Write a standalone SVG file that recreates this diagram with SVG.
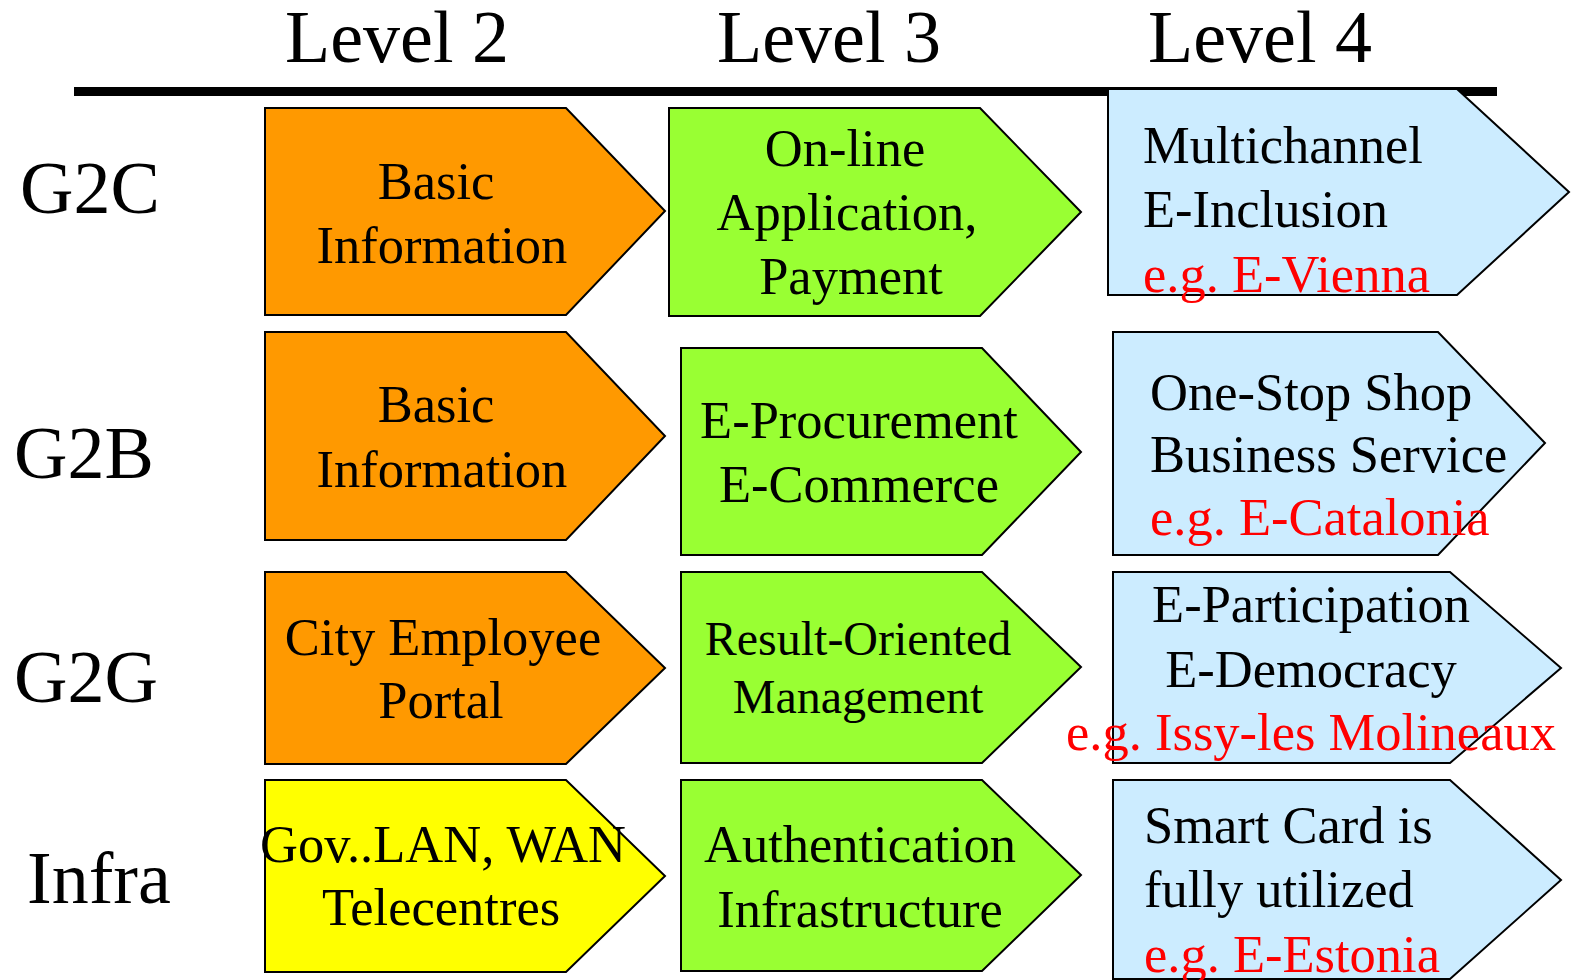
<svg xmlns="http://www.w3.org/2000/svg" width="1573" height="980" viewBox="0 0 1573 980">
<style>
text{font-family:"Liberation Serif","Times New Roman",serif;fill:#000}
.h{font-size:74px;text-anchor:middle}
.r{font-size:74px}
.t{font-size:52.5px}
.c{text-anchor:middle}
.red{fill:#FF0000}
.s{stroke:#000;stroke-width:2}
.o{fill:#FF9900}
.g{fill:#99FF33}
.b{fill:#CCECFF}
.y{fill:#FFFF00}
</style>
<rect width="1573" height="980" fill="#fff"/>
<g id="header">
<text class="h" x="397" y="62">Level 2</text>
<text class="h" x="829" y="62">Level 3</text>
<text class="h" x="1260" y="62">Level 4</text>
<rect x="74" y="87" width="1423" height="9" fill="#000"/>
</g>
<g id="rowlabels">
<text class="r" x="20" y="213">G2C</text>
<text class="r" x="14" y="478">G2B</text>
<text class="r" x="14" y="702">G2G</text>
<text class="r" x="27" y="903">Infra</text>
</g>
<g id="g2c-l2">
<polygon class="o s" points="265,108 566,108 665,211 566,315 265,315"/>
<text class="t c" x="436" y="199">Basic</text>
<text class="t c" x="442" y="263">Information</text>
</g>
<g id="g2c-l3">
<polygon class="g s" points="669,108 980,108 1081,212 980,316 669,316"/>
<text class="t c" x="845" y="166">On-line</text>
<text class="t c" x="847" y="230">Application,</text>
<text class="t c" x="851" y="294">Payment</text>
</g>
<g id="g2c-l4">
<polygon class="b s" points="1108,89 1457,89 1569,192 1457,295 1108,295"/>
<text class="t" x="1143" y="163">Multichannel</text>
<text class="t" x="1143" y="227">E-Inclusion</text>
<text class="t red" x="1143" y="292">e.g. E-Vienna</text>
</g>
<g id="g2b-l2">
<polygon class="o s" points="265,332 566,332 665,436 566,540 265,540"/>
<text class="t c" x="436" y="422">Basic</text>
<text class="t c" x="442" y="487">Information</text>
</g>
<g id="g2b-l3">
<polygon class="g s" points="681,348 982,348 1081,452 982,555 681,555"/>
<text class="t c" x="859" y="438">E-Procurement</text>
<text class="t c" x="859" y="502">E-Commerce</text>
</g>
<g id="g2b-l4">
<polygon class="b s" points="1113,332 1438,332 1545,443 1438,555 1113,555"/>
<text class="t" x="1150" y="410">One-Stop Shop</text>
<text class="t" x="1150" y="472">Business Service</text>
<text class="t red" x="1150" y="535">e.g. E-Catalonia</text>
</g>
<g id="g2g-l2">
<polygon class="o s" points="265,572 566,572 665,668 566,764 265,764"/>
<text class="t c" x="443" y="655">City Employee</text>
<text class="t c" x="441" y="718">Portal</text>
</g>
<g id="g2g-l3">
<polygon class="g s" points="681,572 982,572 1081,667 982,763 681,763"/>
<text class="c" font-size="48" x="858" y="655">Result-Oriented</text>
<text class="c" font-size="48" x="858" y="713">Management</text>
</g>
<g id="g2g-l4">
<polygon class="b s" points="1113,572 1450,572 1561,668 1450,763 1113,763"/>
<text class="t c" x="1311" y="622">E-Participation</text>
<text class="t c" x="1311" y="687">E-Democracy</text>
<text class="t c red" x="1311" y="750">e.g. Issy-les Molineaux</text>
</g>
<g id="infra-l2">
<polygon class="y s" points="265,780 566,780 665,876 566,972 265,972"/>
<text class="t c" x="443" y="862">Gov..LAN, WAN</text>
<text class="t c" x="441" y="925">Telecentres</text>
</g>
<g id="infra-l3">
<polygon class="g s" points="681,780 982,780 1081,875 982,971 681,971"/>
<text class="t c" x="860" y="862">Authentication</text>
<text class="t c" x="860" y="927">Infrastructure</text>
</g>
<g id="infra-l4">
<polygon class="b s" points="1113,780 1450,780 1561,880 1450,979 1113,979"/>
<text class="t" x="1144" y="843">Smart Card is</text>
<text class="t" x="1144" y="907">fully utilized</text>
<text class="t red" x="1144" y="972">e.g. E-Estonia</text>
</g>
<g id="connectors"></g>
</svg>
